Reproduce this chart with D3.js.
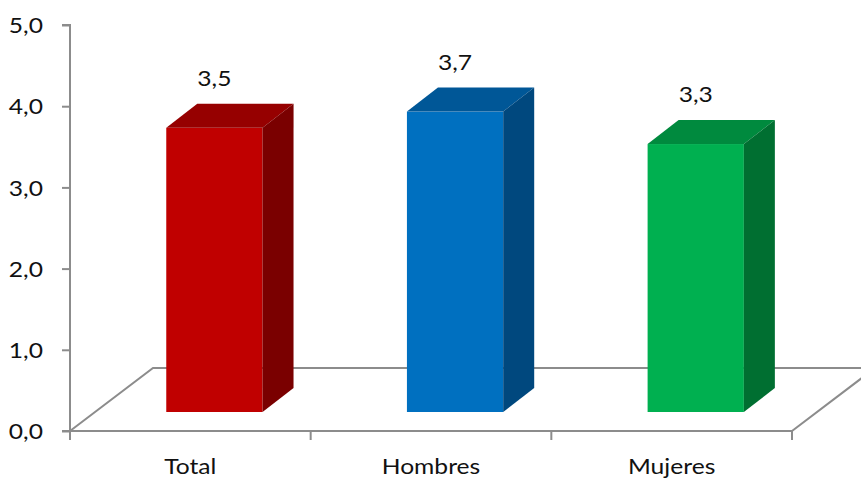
<!DOCTYPE html>
<html>
<head>
<meta charset="utf-8">
<script src="https://cdn.jsdelivr.net/npm/d3@7"></script>
<style>
  html, body { margin: 0; padding: 0; background: #fff; }
  svg { display: block; }
  text { font-family: Lato, "Open Sans", sans-serif; fill: #111; }
</style>
</head>
<body>
<svg id="chart" width="861" height="481"></svg>
<script>
// ---- data ----
const categories = ["Total", "Hombres", "Mujeres"];
const values = [3.5, 3.7, 3.3];
const valueLabels = ["3,5", "3,7", "3,3"];
const yTicks = [0, 1, 2, 3, 4, 5];
const frontColors = ["#C00000", "#0070C0", "#00B050"];
const topColors = ["#960000", "#005797", "#008A3E"];
const sideColors = ["#7A0000", "#00487E", "#006F31"];

// ---- layout ----
const W = 861, H = 481;
const plotLeft = 70, plotRight = 792, plotTop = 25, plotBottom = 431;
const floorDX = 83, floorDY = -63;     // depth of floor
const barOffY = -19;                   // bar front offset inside floor
const barDX = 31, barDY = -24;         // bar depth
const SX = 1.12;                       // horizontal text stretch
const FS = 22;

const svg = d3.select("#chart");

const x = d3.scaleBand().domain(categories).range([plotLeft, plotRight]).paddingInner(0).paddingOuter(0);
const y = d3.scaleLinear().domain([0, 5]).range([plotBottom, plotTop]);

const axisColor = "#8C8C8C";

// floor
const g = svg.append("g");
const floorPath = d3.path();
floorPath.moveTo(plotLeft, plotBottom);
floorPath.lineTo(plotRight, plotBottom);
floorPath.moveTo(plotLeft, plotBottom);
floorPath.lineTo(plotLeft + floorDX, plotBottom + floorDY);
floorPath.lineTo(plotRight + floorDX + 40, plotBottom + floorDY);
floorPath.moveTo(plotRight, plotBottom);
floorPath.lineTo(plotRight + floorDX, plotBottom + floorDY);
g.append("path").attr("d", floorPath.toString())
  .attr("fill", "none").attr("stroke", axisColor).attr("stroke-width", 2);

// y axis
const yAxis = d3.axisLeft(y).tickValues(yTicks).tickSize(8).tickPadding(0)
  .tickFormat(d => d3.format(".1f")(d).replace(".", ","));
const yg = svg.append("g").attr("transform", `translate(${plotLeft},0)`).call(yAxis);
yg.select(".domain").attr("stroke", axisColor).attr("stroke-width", 2)
  .attr("d", `M-8,${y(5)}H0V${y(0)}H-8`);
yg.selectAll(".tick line").attr("stroke", axisColor).attr("stroke-width", 2);
yg.selectAll(".tick text").remove();
yg.selectAll(".tick").append("text")
  .attr("transform", `translate(-27,0) scale(${SX},1)`)
  .attr("text-anchor", "end").attr("dy", "0.35em")
  .style("font-size", FS + "px")
  .text(d => d3.format(".1f")(d).replace(".", ","));

// x axis ticks
const xTickPos = [...categories.map(c => x(c)), plotRight];
svg.append("g").selectAll("line").data(xTickPos).join("line")
  .attr("x1", d => d).attr("x2", d => d)
  .attr("y1", plotBottom).attr("y2", plotBottom + 9)
  .attr("stroke", axisColor).attr("stroke-width", 2);

svg.append("g").selectAll("text").data(categories).join("text")
  .attr("transform", d => `translate(${x(d) + x.bandwidth() / 2},${474}) scale(${SX},1)`)
  .attr("text-anchor", "middle")
  .style("font-size", FS + "px")
  .text(d => d);

// bars
const bw = x.bandwidth();
const bars = svg.append("g").selectAll("g").data(categories).join("g");
bars.each(function (c, i) {
  const gg = d3.select(this);
  const x0 = x(c) + bw * 0.4;
  const x1 = x0 + bw * 0.4;
  const yb = y(0) + barOffY;
  const yt = yb - (y(0) - y(values[i]));
  // front
  gg.append("rect").attr("x", x0).attr("y", yt).attr("width", x1 - x0).attr("height", yb - yt)
    .attr("fill", frontColors[i]);
  // top
  gg.append("path")
    .attr("d", `M${x0},${yt}L${x0 + barDX},${yt + barDY}L${x1 + barDX},${yt + barDY}L${x1},${yt}Z`)
    .attr("fill", topColors[i]);
  // side
  gg.append("path")
    .attr("d", `M${x1},${yt}L${x1 + barDX},${yt + barDY}L${x1 + barDX},${yb + barDY}L${x1},${yb}Z`)
    .attr("fill", sideColors[i]);
  // label
  gg.append("text")
    .attr("transform", `translate(${(x0 + x1) / 2},${yt - 42}) scale(${SX},1)`)
    .attr("text-anchor", "middle")
    .style("font-size", FS + "px")
    .text(valueLabels[i]);
});
</script>
</body>
</html>
